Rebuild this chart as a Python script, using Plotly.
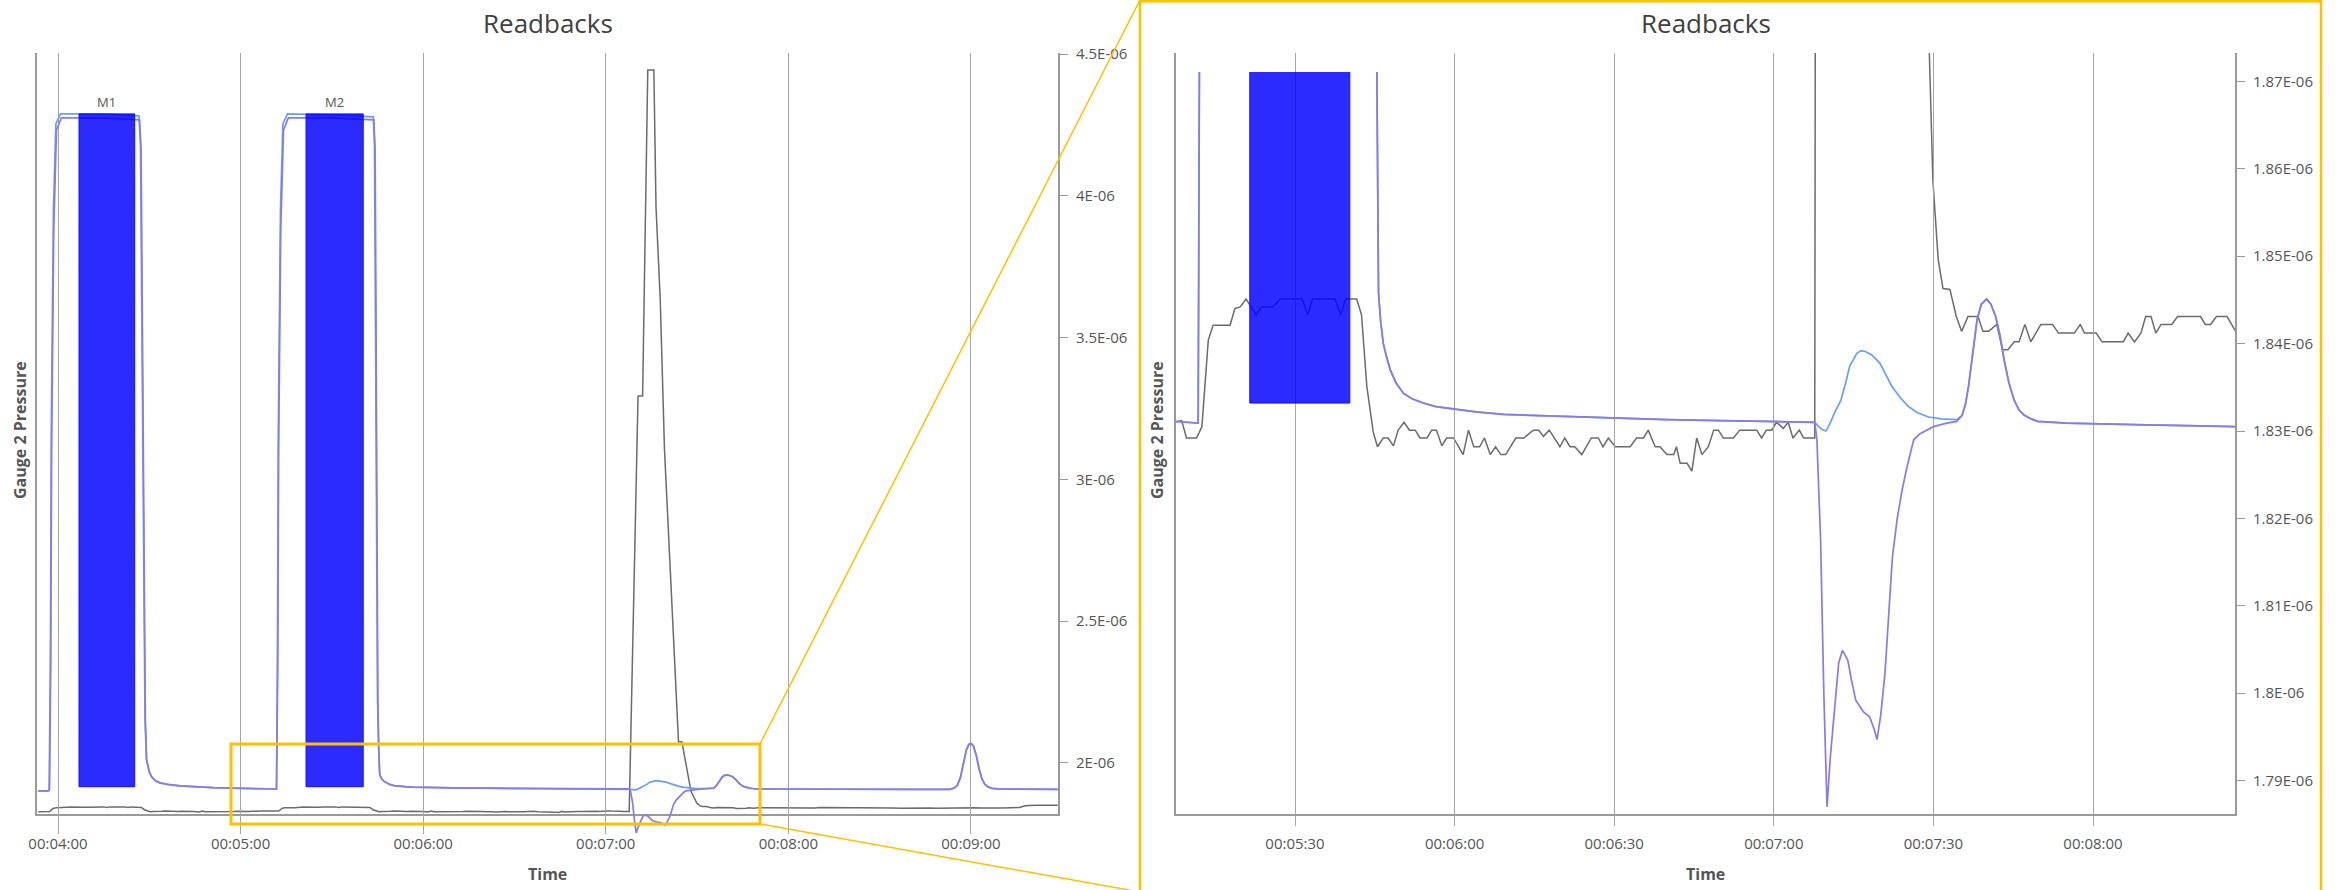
import plotly.graph_objects as go

W, H = 2346, 890

# ---------------- data (pressure values in units of 1E-06, time in seconds) ----------------
purple_t = [233.5, 236.8, 237.2, 237.6, 237.9, 238.6, 239.5, 241.1, 255.0, 266.8, 267.3, 267.7,
            268.2, 268.7, 269.1, 270.0, 270.8, 272.0, 273.5, 276.0, 280.1, 285.0, 291.0, 297.0,
            303.0, 307.4, 311.8, 312.2, 312.5, 313.2, 314.1, 315.7, 330.0, 343.8, 344.2, 344.5,
            344.8, 345.1, 345.4, 345.7, 346.1, 346.6, 347.2, 347.9, 349.0, 350.4, 352.0, 354.1,
            356.5, 359.8, 364.0, 369.2, 374.2, 380.0, 390.2, 400.0, 410.0, 420.2, 427.7, 428.1,
            428.8, 429.4, 430.0, 430.6, 431.4, 432.2, 432.9, 433.9, 434.6, 435.4, 436.8, 438.0,
            438.8, 439.4, 440.1, 440.9, 441.6, 442.3, 443.2, 444.1, 445.0, 445.6, 446.3, 447.5,
            450.0, 452.5, 454.4, 455.4, 456.0, 456.6, 457.4, 458.2, 459.0, 460.0, 460.8, 461.7,
            462.5, 463.3, 464.2, 465.2, 466.1, 467.1, 468.3, 469.6, 475.0, 480.4, 490.0, 500.0,
            507.2, 520.0, 533.0, 534.5, 535.5, 536.5, 537.5, 538.5, 539.3, 540.0, 540.8, 541.7,
            542.6, 543.6, 544.6, 545.6, 547.0, 549.0, 555.0, 568.5]
purple_v = [1.8290, 1.8290, 1.8300, 1.9500, 2.1700, 2.3900, 2.4900, 2.5020, 2.5020, 2.5000, 2.4700, 2.3000,
            2.0500, 1.9000, 1.8600, 1.8480, 1.8430, 1.8390, 1.8370, 1.8355, 1.8340, 1.8330, 1.8322, 1.8317,
            1.8314, 1.8311, 1.8309, 1.9500, 2.1700, 2.3900, 2.4900, 2.5020, 2.5020, 2.5000, 2.4700, 2.3000,
            2.0500, 1.9200, 1.8700, 1.8458, 1.8425, 1.8400, 1.8385, 1.8370, 1.8355, 1.8343, 1.8337, 1.8332,
            1.8328, 1.8325, 1.8322, 1.8319, 1.8318, 1.8317, 1.8315, 1.8313, 1.8312, 1.8311, 1.8310, 1.8290,
            1.8175, 1.8000, 1.7870, 1.7925, 1.7984, 1.8035, 1.8049, 1.8038, 1.8015, 1.7992, 1.7979, 1.7973,
            1.7960, 1.7947, 1.7975, 1.8023, 1.8090, 1.8156, 1.8200, 1.8232, 1.8258, 1.8274, 1.8290, 1.8297,
            1.8305, 1.8309, 1.8311, 1.8318, 1.8330, 1.8351, 1.8390, 1.8427, 1.8445, 1.8451, 1.8445, 1.8431,
            1.8410, 1.8381, 1.8355, 1.8335, 1.8324, 1.8318, 1.8314, 1.8311, 1.8309, 1.8308, 1.8307, 1.8306,
            1.8305, 1.8305, 1.8306, 1.8318, 1.8345, 1.8420, 1.8560, 1.8700, 1.8755, 1.8766, 1.8740, 1.8650,
            1.8520, 1.8410, 1.8355, 1.8330, 1.8316, 1.8310, 1.8307, 1.8306]

blue_t = [233.5, 236.8, 237.1, 237.5, 237.8, 238.5, 239.3, 240.8, 255.0, 266.6, 267.1, 267.5,
          268.0, 268.6, 269.1, 270.0, 270.8, 272.0, 273.5, 276.0, 280.1, 285.0, 291.0, 297.0,
          303.0, 307.4, 311.8, 312.1, 312.4, 313.1, 313.9, 315.4, 330.0, 343.6, 344.0, 344.3,
          344.7, 345.0, 345.4, 345.7, 346.1, 346.6, 347.2, 347.9, 349.0, 350.4, 352.0, 354.1,
          356.5, 359.8, 364.0, 369.2, 374.2, 380.0, 390.2, 400.0, 410.0, 420.2, 427.7, 428.3,
          429.0, 429.8, 430.5, 431.5, 432.6, 433.5, 434.3, 434.9, 435.6, 436.4, 437.2, 438.4,
          439.9, 441.0, 442.2, 443.8, 445.3, 447.0, 449.1, 451.5, 454.4, 455.4, 456.0, 456.6,
          457.4, 458.2, 459.0, 460.0, 460.8, 461.7, 462.5, 463.3, 464.2, 465.2, 466.1, 467.1,
          468.3, 469.6, 475.0, 480.4, 490.0, 500.0, 507.2, 520.0, 533.0, 534.5, 535.5, 536.5,
          537.5, 538.5, 539.3, 540.0, 540.8, 541.7, 542.6, 543.6, 544.6, 545.6, 547.0, 549.0,
          555.0, 568.5]
blue_v = [1.8290, 1.8290, 1.8300, 1.9600, 2.1900, 2.4100, 2.4960, 2.5060, 2.5060, 2.5040, 2.4750, 2.3100,
          2.0600, 1.9000, 1.8600, 1.8480, 1.8430, 1.8390, 1.8370, 1.8355, 1.8340, 1.8330, 1.8322, 1.8317,
          1.8314, 1.8311, 1.8309, 1.9600, 2.1900, 2.4100, 2.4960, 2.5060, 2.5050, 2.5030, 2.4750, 2.3100,
          2.0600, 1.9200, 1.8700, 1.8458, 1.8425, 1.8400, 1.8385, 1.8370, 1.8355, 1.8343, 1.8337, 1.8332,
          1.8328, 1.8325, 1.8322, 1.8319, 1.8318, 1.8317, 1.8315, 1.8313, 1.8312, 1.8311, 1.8310, 1.8306,
          1.8302, 1.8300, 1.8308, 1.8322, 1.8335, 1.8355, 1.8375, 1.8381, 1.8389, 1.8392, 1.8391, 1.8387,
          1.8378, 1.8365, 1.8351, 1.8338, 1.8328, 1.8321, 1.8316, 1.8314, 1.8313, 1.8318, 1.8330, 1.8351,
          1.8390, 1.8427, 1.8445, 1.8451, 1.8445, 1.8431, 1.8410, 1.8381, 1.8355, 1.8335, 1.8324, 1.8318,
          1.8314, 1.8311, 1.8309, 1.8308, 1.8307, 1.8306, 1.8305, 1.8305, 1.8306, 1.8318, 1.8345, 1.8420,
          1.8560, 1.8700, 1.8755, 1.8766, 1.8740, 1.8650, 1.8520, 1.8410, 1.8355, 1.8330, 1.8316, 1.8310,
          1.8307, 1.8306]

gray_t = [233.5, 235.0, 236.5, 237.3, 238.0, 238.6, 239.5, 242.0, 243.0, 244.5, 246.3, 247.5,
          249.5, 251.0, 255.0, 256.0, 257.0, 262.0, 263.0, 264.0, 266.5, 267.4, 268.4, 269.4,
          270.2, 271.3, 272.2, 273.2, 274.1, 275.2, 276.2, 277.4, 278.3, 279.6, 280.5, 281.4,
          282.4, 283.3, 284.6, 286.4, 287.4, 288.4, 289.5, 290.4, 291.5, 292.5, 293.5, 294.4,
          296.3, 297.8, 298.8, 300.0, 301.2, 302.4, 303.6, 304.8, 305.6, 306.5, 308.7, 309.6,
          311.5, 312.5, 313.7, 314.6, 317.8, 318.7, 319.7, 320.8, 322.7, 323.7, 325.9, 327.2,
          331.3, 332.4, 333.3, 337.5, 338.6, 339.5, 341.6, 342.5, 343.5, 344.7, 345.5, 346.6,
          347.5, 348.5, 349.4, 350.5, 351.5, 352.6, 353.5, 354.8, 355.7, 356.6, 357.6, 358.5,
          359.8, 361.6, 362.6, 363.6, 364.7, 365.6, 366.7, 367.7, 368.7, 369.6, 371.5, 373.0,
          374.8, 375.8, 376.7, 377.8, 379.8, 380.7, 381.7, 382.6, 383.9, 385.7, 387.0, 387.9,
          388.9, 390.2, 393.0, 394.2, 395.5, 396.4, 397.7, 398.6, 399.9, 401.2, 401.7, 402.4,
          403.7, 404.6, 405.5, 406.5, 407.7, 408.7, 409.6, 410.5, 412.4, 413.6, 416.8, 417.7,
          418.6, 419.6, 420.5, 421.8, 422.7, 423.6, 424.8, 425.6, 427.7, 430.6, 432.1, 433.8,
          435.8, 436.5, 437.9, 439.3, 443.9, 445.0, 448.0, 449.9, 450.9, 451.8, 453.1, 454.3,
          455.3, 456.5, 458.4, 459.3, 460.4, 461.9, 463.0, 464.0, 465.2, 466.1, 467.2, 468.3,
          470.2, 472.4, 473.5, 476.5, 477.6, 478.4, 480.6, 481.7, 485.7, 486.6, 487.8, 489.0,
          489.9, 490.9, 491.8, 492.8, 494.8, 495.9, 500.2, 501.1, 502.1, 503.2, 505.2, 506.8,
          508.5, 511.0, 514.0, 517.0, 520.0, 523.0, 526.0, 529.0, 532.0, 535.0, 538.0, 541.0,
          544.0, 547.0, 550.0, 553.0, 556.0, 557.5, 559.0, 562.0, 565.0, 568.5]
gray_v = [1.8283, 1.8280, 1.8285, 1.8290, 1.8360, 1.8404, 1.8421, 1.8421, 1.8440, 1.8451, 1.8433, 1.8442,
          1.8442, 1.8451, 1.8451, 1.8433, 1.8451, 1.8451, 1.8433, 1.8451, 1.8451, 1.8433, 1.8351, 1.8299,
          1.8282, 1.8292, 1.8292, 1.8283, 1.8301, 1.8310, 1.8301, 1.8301, 1.8292, 1.8292, 1.8301, 1.8301,
          1.8283, 1.8292, 1.8292, 1.8273, 1.8301, 1.8282, 1.8282, 1.8292, 1.8273, 1.8282, 1.8273, 1.8273,
          1.8292, 1.8292, 1.8301, 1.8292, 1.8283, 1.8292, 1.8301, 1.8292, 1.8301, 1.8309, 1.8312, 1.8292,
          1.8292, 1.8305, 1.8404, 1.8421, 1.8421, 1.8440, 1.8442, 1.8451, 1.8433, 1.8442, 1.8442, 1.8451,
          1.8451, 1.8433, 1.8451, 1.8451, 1.8433, 1.8451, 1.8451, 1.8433, 1.8351, 1.8299, 1.8282, 1.8292,
          1.8292, 1.8283, 1.8301, 1.8310, 1.8301, 1.8301, 1.8292, 1.8292, 1.8301, 1.8301, 1.8283, 1.8292,
          1.8292, 1.8273, 1.8301, 1.8282, 1.8282, 1.8292, 1.8273, 1.8282, 1.8273, 1.8273, 1.8292, 1.8292,
          1.8301, 1.8301, 1.8294, 1.8301, 1.8282, 1.8292, 1.8282, 1.8282, 1.8273, 1.8292, 1.8292, 1.8282,
          1.8292, 1.8282, 1.8282, 1.8292, 1.8292, 1.8301, 1.8282, 1.8282, 1.8273, 1.8273, 1.8282, 1.8263,
          1.8263, 1.8254, 1.8292, 1.8273, 1.8282, 1.8301, 1.8301, 1.8292, 1.8292, 1.8301, 1.8301, 1.8292,
          1.8301, 1.8301, 1.8310, 1.8303, 1.8310, 1.8292, 1.8301, 1.8292, 1.8292, 3.2940, 3.2940, 4.4440,
          4.4440, 3.9620, 3.6330, 3.1040, 2.0750, 2.0750, 1.9000, 1.8587, 1.8496, 1.8463, 1.8462, 1.8431,
          1.8414, 1.8431, 1.8431, 1.8414, 1.8414, 1.8422, 1.8393, 1.8393, 1.8402, 1.8402, 1.8422, 1.8402,
          1.8422, 1.8422, 1.8412, 1.8412, 1.8422, 1.8412, 1.8412, 1.8402, 1.8402, 1.8412, 1.8402, 1.8412,
          1.8431, 1.8431, 1.8412, 1.8422, 1.8422, 1.8431, 1.8431, 1.8422, 1.8422, 1.8431, 1.8431, 1.8414,
          1.8412, 1.8422, 1.8412, 1.8402, 1.8412, 1.8422, 1.8412, 1.8402, 1.8412, 1.8422, 1.8412, 1.8422,
          1.8412, 1.8402, 1.8412, 1.8422, 1.8431, 1.8480, 1.8500, 1.8510, 1.8500, 1.8510]

mark_names = ["M1", "M2"]
mark_start = [246.9, 321.5]
mark_end = [265.2, 340.3]
mark_low = [1.8332, 1.8332]
mark_high = [2.506, 2.506]

overview_xticks = [240, 300, 360, 420, 480, 540]
overview_xlabels = ["00:04:00", "00:05:00", "00:06:00", "00:07:00", "00:08:00", "00:09:00"]
overview_yticks = [2.0, 2.5, 3.0, 3.5, 4.0, 4.5]
overview_ylabels = ["2E-06", "2.5E-06", "3E-06", "3.5E-06", "4E-06", "4.5E-06"]
detail_xticks = [330, 360, 390, 420, 450, 480]
detail_xlabels = ["00:05:30", "00:06:00", "00:06:30", "00:07:00", "00:07:30", "00:08:00"]
detail_yticks = [1.79, 1.80, 1.81, 1.82, 1.83, 1.84, 1.85, 1.86, 1.87]
detail_ylabels = ["1.79E-06", "1.8E-06", "1.81E-06", "1.82E-06", "1.83E-06", "1.84E-06",
                  "1.85E-06", "1.86E-06", "1.87E-06"]

# ---------------- styling ----------------
PURPLE = "#8a7ae6"
BLUE = "#6aa0f0"
GRAY = "#6b6b6b"
RECT_FILL = "rgba(0,0,255,0.83)"
ORANGE = "#FFC000"
GRID = "#a6a6a6"
AXIS = "#9a9a9a"
TEXT = "#555555"
FONT = "Open Sans"


def pxx(p):
    return p / W


def pxy(p):
    return 1 - p / H


fig = go.Figure()


def add_lines(xa, ya_gray, ya_purple):
    fig.add_trace(go.Scatter(x=gray_t, y=gray_v, mode="lines", line=dict(color=GRAY, width=1.5),
                             xaxis=xa, yaxis=ya_gray, hoverinfo="skip", showlegend=False))
    fig.add_trace(go.Scatter(x=blue_t, y=blue_v, mode="lines", line=dict(color=BLUE, width=1.7),
                             xaxis=xa, yaxis=ya_purple, hoverinfo="skip", showlegend=False))
    fig.add_trace(go.Scatter(x=purple_t, y=purple_v, mode="lines", line=dict(color=PURPLE, width=1.7),
                             xaxis=xa, yaxis=ya_purple, hoverinfo="skip", showlegend=False))
    for s, e, lo, hi in zip(mark_start, mark_end, mark_low, mark_high):
        fig.add_trace(go.Scatter(x=[s, e, e, s, s], y=[lo, lo, hi, hi, lo], mode="lines",
                                 fill="toself", fillcolor=RECT_FILL,
                                 line=dict(color="#1010ff", width=1),
                                 xaxis=xa, yaxis=ya_purple, hoverinfo="skip", showlegend=False))


add_lines("x", "y", "y2")
add_lines("x2", "y3", "y4")

tickfont = dict(family=FONT, size=15, color=TEXT)
xcommon = dict(showgrid=True, gridcolor=GRID, gridwidth=1, zeroline=False, ticks="outside",
               ticklen=10, tickcolor=GRID, showline=True, linecolor=AXIS, linewidth=2,
               tickfont=tickfont, automargin=False, ticklabelstandoff=5)
ycommon = dict(showgrid=False, zeroline=False, ticks="outside", ticklen=8, tickcolor=AXIS,
               showline=True, linecolor=AXIS, linewidth=2, mirror=True, side="right",
               tickfont=tickfont, automargin=False, ticklabelstandoff=5)

fig.update_layout(
    width=W, height=H, autosize=False,
    margin=dict(l=0, r=0, t=0, b=0),
    paper_bgcolor="white", plot_bgcolor="rgba(0,0,0,0)",
    template="none", showlegend=False,
    xaxis=dict(domain=[pxx(37), pxx(1058)], range=[233.1, 568.6], anchor="y",
               tickvals=overview_xticks, ticktext=overview_xlabels, **xcommon),
    yaxis=dict(domain=[pxy(814), pxy(53)], range=[1.82, 4.50353], anchor="x",
               tickvals=overview_yticks, ticktext=overview_ylabels, **ycommon),
    yaxis2=dict(domain=[pxy(834), pxy(53)], range=[1.7859, 2.5669], anchor="x", visible=False),
    xaxis2=dict(domain=[pxx(1176), pxx(2235)], range=[307.63, 506.69], anchor="y3",
                tickvals=detail_xticks, ticktext=detail_xlabels, **xcommon),
    yaxis3=dict(domain=[pxy(814), pxy(53)], range=[1.78618, 1.87325], anchor="x2",
                tickvals=detail_yticks, ticktext=detail_ylabels, **ycommon),
    yaxis4=dict(domain=[pxy(814), pxy(72)], range=[1.78618, 1.87108], anchor="x2", visible=False),
)

ann = []
for cx in (547.5, 1705.5):
    ann.append(dict(text="Readbacks", x=pxx(cx), y=pxy(23), xref="paper", yref="paper",
                    showarrow=False, font=dict(family=FONT, size=26, color="#404040"),
                    xanchor="center", yanchor="middle"))
    ann.append(dict(text="<b>Time</b>", x=pxx(cx), y=pxy(874), xref="paper", yref="paper",
                    showarrow=False, font=dict(family=FONT, size=16, color=TEXT),
                    xanchor="center", yanchor="middle"))
for gx in (20, 1157):
    ann.append(dict(text="<b>Gauge 2 Pressure</b>", x=pxx(gx), y=pxy(430), xref="paper",
                    yref="paper", showarrow=False, textangle=-90,
                    font=dict(family=FONT, size=16, color=TEXT),
                    xanchor="center", yanchor="middle"))
for name, s, e, hi in zip(mark_names, mark_start, mark_end, mark_high):
    ann.append(dict(text=name, x=(s + e) / 2, y=hi, xref="x", yref="y2", showarrow=False,
                    yanchor="bottom", yshift=1, font=dict(family=FONT, size=13, color=TEXT)))
fig.update_layout(annotations=ann)

shapes = [
    # zoom window on the overview chart
    dict(type="rect", xref="paper", yref="paper", x0=pxx(231), x1=pxx(760), y0=pxy(824), y1=pxy(744),
         line=dict(color=ORANGE, width=3)),
    # connector lines to the detail panel
    dict(type="line", xref="paper", yref="paper", x0=pxx(760), y0=pxy(744), x1=pxx(1140), y1=pxy(0),
         line=dict(color=ORANGE, width=1.5)),
    dict(type="line", xref="paper", yref="paper", x0=pxx(760), y0=pxy(824), x1=pxx(1140), y1=pxy(892),
         line=dict(color=ORANGE, width=1.5)),
    # frame around detail panel
    dict(type="rect", xref="paper", yref="paper", x0=pxx(1140), x1=pxx(2321), y0=pxy(895), y1=pxy(1.2),
         line=dict(color=ORANGE, width=2.5)),
]
fig.update_layout(shapes=shapes)

# remove the browser's default page margin so the figure fills the window exactly
fig.write_html("out.html", config={"displayModeBar": False},
               post_script="document.body.style.margin='0';")
